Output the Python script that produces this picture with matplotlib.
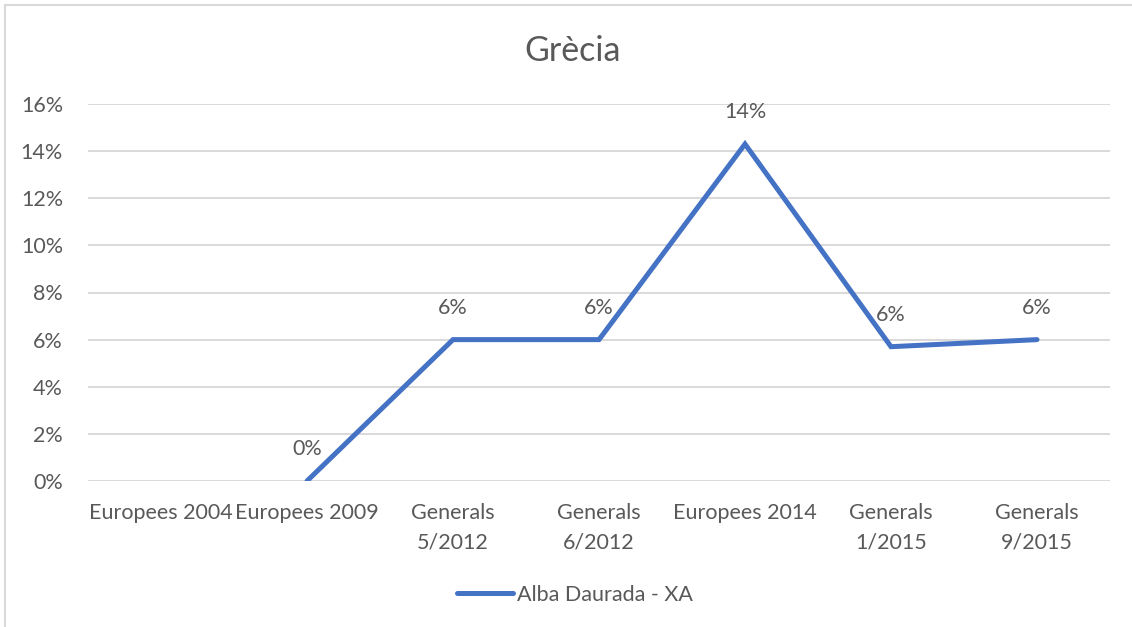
import numpy as np
import matplotlib
matplotlib.use('Agg')
import matplotlib.pyplot as plt
from matplotlib.lines import Line2D

plt.rcParams['font.family'] = ['Lato', 'DejaVu Sans']

# dades
categories = ['Europees 2004', 'Europees 2009', 'Generals\n5/2012', 'Generals\n6/2012',
              'Europees 2014', 'Generals\n1/2015', 'Generals\n9/2015']
values = [np.nan, 0.0, 0.060, 0.060, 0.143, 0.057, 0.060]
series_name = 'Alba Daurada - XA'
title = 'Grècia'

text_color = '#595959'
line_color = '#4472C4'
grid_color = '#D9D9D9'
fs = 15.5

fig = plt.figure(figsize=(11.32, 6.27), dpi=100)
ax = fig.add_axes([88 / 1132, 1 - 481 / 627, (1110 - 88) / 1132, (481 - 104) / 627])

x = np.arange(len(categories))
ax.plot(x, values, color=line_color, linewidth=3.6, solid_capstyle='round',
        solid_joinstyle='miter')

# etiquetes de dades
for xi, v in zip(x, values):
    if np.isnan(v):
        continue
    ax.annotate(f'{v * 100:.0f}%', (xi, v), xytext=(0, 23), textcoords='offset points',
                ha='center', va='center', fontsize=fs, color=text_color)

ax.set_xlim(-0.5, len(categories) - 0.5)
ax.set_ylim(0, 0.16)
ax.set_yticks(np.arange(0, 0.161, 0.02))
ax.set_yticklabels([f'{t * 100:.0f}%' for t in np.arange(0, 0.161, 0.02)])
ax.set_xticks(x)
ax.set_xticklabels(categories, linespacing=1.6)

ax.grid(axis='y', color=grid_color, linewidth=1.4)
ax.set_axisbelow(True)
for s in ax.spines.values():
    s.set_visible(False)
ax.tick_params(axis='both', length=0, labelsize=fs, labelcolor=text_color)
ax.tick_params(axis='y', pad=18)
ax.tick_params(axis='x', pad=16)
for lab in ax.get_xticklabels():
    lab.set_verticalalignment('top')

fig.text(573 / 1132, 1 - 51 / 627, title, ha='center', va='center', fontsize=24.5, color=text_color)

handle = Line2D([0], [0], color=line_color, linewidth=3.6, solid_capstyle='round')
fig.legend([handle], [series_name], loc='center', bbox_to_anchor=(575 / 1132, 1 - 595 / 627),
           frameon=False, fontsize=fs, labelcolor=text_color, handlelength=2.6,
           handletextpad=0.2)

# vora del gràfic
fig.add_artist(Line2D([5 / 1132, 5 / 1132], [0, 1 - 5 / 627], color=grid_color, linewidth=1.5))
fig.add_artist(Line2D([5 / 1132, 1], [1 - 5 / 627, 1 - 5 / 627], color=grid_color, linewidth=1.5))

fig.savefig('out.png', dpi=100)
